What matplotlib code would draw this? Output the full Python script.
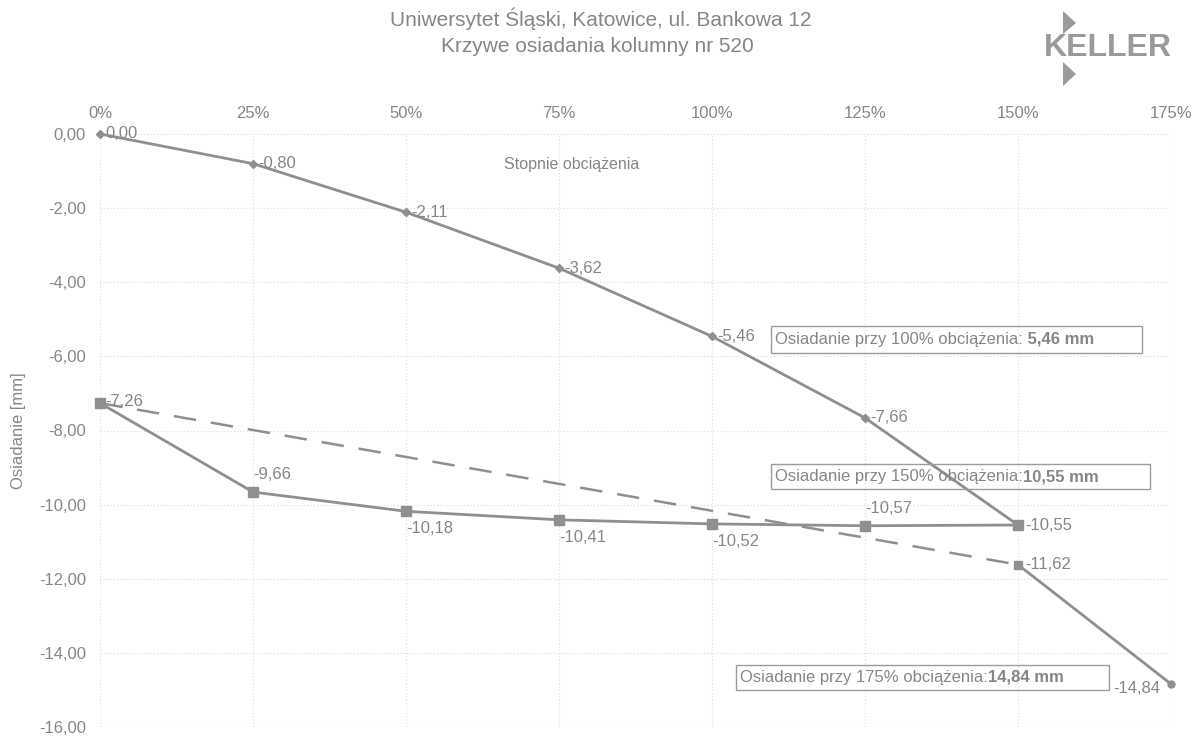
import matplotlib
matplotlib.use('Agg')
import matplotlib.pyplot as plt
from matplotlib.patches import Rectangle, Polygon

plt.rcParams['font.family'] = ['Liberation Sans', 'DejaVu Sans']

# stopnie obciążenia [%] i osiadania [mm]
stopnie = [0, 25, 50, 75, 100, 125, 150, 175]
stopnie_etykiety = ['0%', '25%', '50%', '75%', '100%', '125%', '150%', '175%']
os_y = [0, -2, -4, -6, -8, -10, -12, -14, -16]
os_y_etykiety = ['0,00', '-2,00', '-4,00', '-6,00', '-8,00', '-10,00', '-12,00', '-14,00', '-16,00']

# obciążanie
obc_x = [0, 25, 50, 75, 100, 125, 150]
obc_y = [0.00, -0.80, -2.11, -3.62, -5.46, -7.66, -10.55]
obc_lab = ['0,00', '-0,80', '-2,11', '-3,62', '-5,46', '-7,66']

# odciążanie
odc_x = [150, 125, 100, 75, 50, 25, 0]
odc_y = [-10.55, -10.57, -10.52, -10.41, -10.18, -9.66, -7.26]
odc_lab = ['-10,55', '-10,57', '-10,52', '-10,41', '-10,18', '-9,66', '-7,26']

# ponowne obciążenie
pon_x = [0, 150]
pon_y = [-7.26, -11.62]

# obciążenie do 175%
kon_x = [150, 175]
kon_y = [-11.62, -14.84]
kon_lab = ['-11,62', '-14,84']

szary = '#8f8f8f'
tekst = '#868686'
fs = 12

fig = plt.figure(figsize=(11.93, 7.38), dpi=100)
ax = fig.add_axes([100 / 1193, 1 - 727 / 738, 1071 / 1193, 593 / 738])

ax.plot(obc_x, obc_y, color=szary, lw=2, marker='D', ms=4, clip_on=False, zorder=3)
ax.plot(odc_x, odc_y, color=szary, lw=2, marker='s', ms=6.5, clip_on=False, zorder=3)
ax.plot(pon_x, pon_y, color=szary, lw=1.8, ls=(0, (9, 6)), marker='s', ms=5.5, clip_on=False, zorder=3)
ax.plot(kon_x, kon_y, color=szary, lw=2, marker='o', ms=5, markevery=[1], clip_on=False, zorder=3)

ax.set_xlim(0, 175)
ax.set_ylim(-16, 0)
ax.xaxis.tick_top()
ax.set_xticks(stopnie)
ax.set_xticklabels(stopnie_etykiety)
ax.set_yticks(os_y)
ax.set_yticklabels(os_y_etykiety)
ax.tick_params(axis='both', length=0, colors=tekst, labelsize=fs)
ax.tick_params(axis='x', pad=9.5)
ax.tick_params(axis='y', pad=10)
for s in ax.spines.values():
    s.set_visible(False)
ax.grid(True, color='#dadada', lw=0.8, ls=(0, (1, 2)))
ax.set_ylabel('Osiadanie [mm]', color=tekst, fontsize=fs)
ax.yaxis.set_label_coords(-0.069, 0.5)

# etykiety danych
for x, y, t in zip(obc_x, obc_y, obc_lab):
    ax.annotate(t, (x, y), xytext=(4, 0), textcoords='offset points',
                va='center', ha='left', color=tekst, fontsize=fs)
odc_off = [(5, 0, 'left', 'center'), (0, 7, 'left', 'bottom'), (0, -7, 'left', 'top'),
           (0, -7, 'left', 'top'), (0, -7, 'left', 'top'), (0, 7, 'left', 'bottom'),
           (4, 1, 'left', 'center')]
for x, y, t, (dx, dy, ha, va) in zip(odc_x, odc_y, odc_lab, odc_off):
    ax.annotate(t, (x, y), xytext=(dx, dy), textcoords='offset points',
                va=va, ha=ha, color=tekst, fontsize=fs)
ax.annotate(kon_lab[0], (kon_x[0], kon_y[0]), xytext=(5, 0), textcoords='offset points',
            va='center', ha='left', color=tekst, fontsize=fs)
ax.annotate(kon_lab[1], (kon_x[1], kon_y[1]), xytext=(-8, -3), textcoords='offset points',
            va='center', ha='right', color=tekst, fontsize=fs)

ax.text(0.44, 0.948, 'Stopnie obciążenia', transform=ax.transAxes, ha='center',
        va='center', color=tekst, fontsize=11.5)

# ramki z opisem
ramki = [
    (771, 326, 371, 27, 'Osiadanie przy 100% obciążenia:', ' 5,46 mm'),
    (771, 464, 379, 25, 'Osiadanie przy 150% obciążenia:', '10,55 mm'),
    (736, 665, 373, 25, 'Osiadanie przy 175% obciążenia:', '14,84 mm'),
]
for x0, y0, w, h, t1, t2 in ramki:
    fig.patches.append(Rectangle((x0 / 1193, 1 - (y0 + h) / 738), w / 1193, h / 738,
                                 transform=fig.transFigure, fill=False,
                                 ec='#9c9c9c', lw=1))
    a = fig.text((x0 + 4) / 1193, 1 - (y0 + h / 2) / 738, t1, ha='left', va='center',
                 color=tekst, fontsize=fs)
    ax.annotate(t2, xy=(1, 0.5), xycoords=a, ha='left', va='center',
                color=tekst, fontsize=fs, fontweight='bold', annotation_clip=False)

# tytuł
fig.text(601 / 1193, 1 - 19 / 738, 'Uniwersytet Śląski, Katowice, ul. Bankowa 12', ha='center',
         va='center', color=tekst, fontsize=15)
fig.text(597 / 1193, 1 - 46 / 738, 'Krzywe osiadania kolumny nr 520', ha='center',
         va='center', color=tekst, fontsize=15)

# logo
logo = '#9a9a9a'
fig.text(1108 / 1193, 1 - 48 / 738, 'KELLER', ha='center', va='center',
         color=logo, fontsize=23, fontweight='bold')
fig.patches.append(Polygon([(1063 / 1193, 1 - 11 / 738), (1076 / 1193, 1 - 23 / 738),
                            (1063 / 1193, 1 - 34 / 738)], closed=True,
                           transform=fig.transFigure, fc=logo, ec='none'))
fig.patches.append(Polygon([(1063 / 1193, 1 - 62 / 738), (1076 / 1193, 1 - 74 / 738),
                            (1063 / 1193, 1 - 86 / 738)], closed=True,
                           transform=fig.transFigure, fc=logo, ec='none'))

fig.savefig('out.png', dpi=100)
